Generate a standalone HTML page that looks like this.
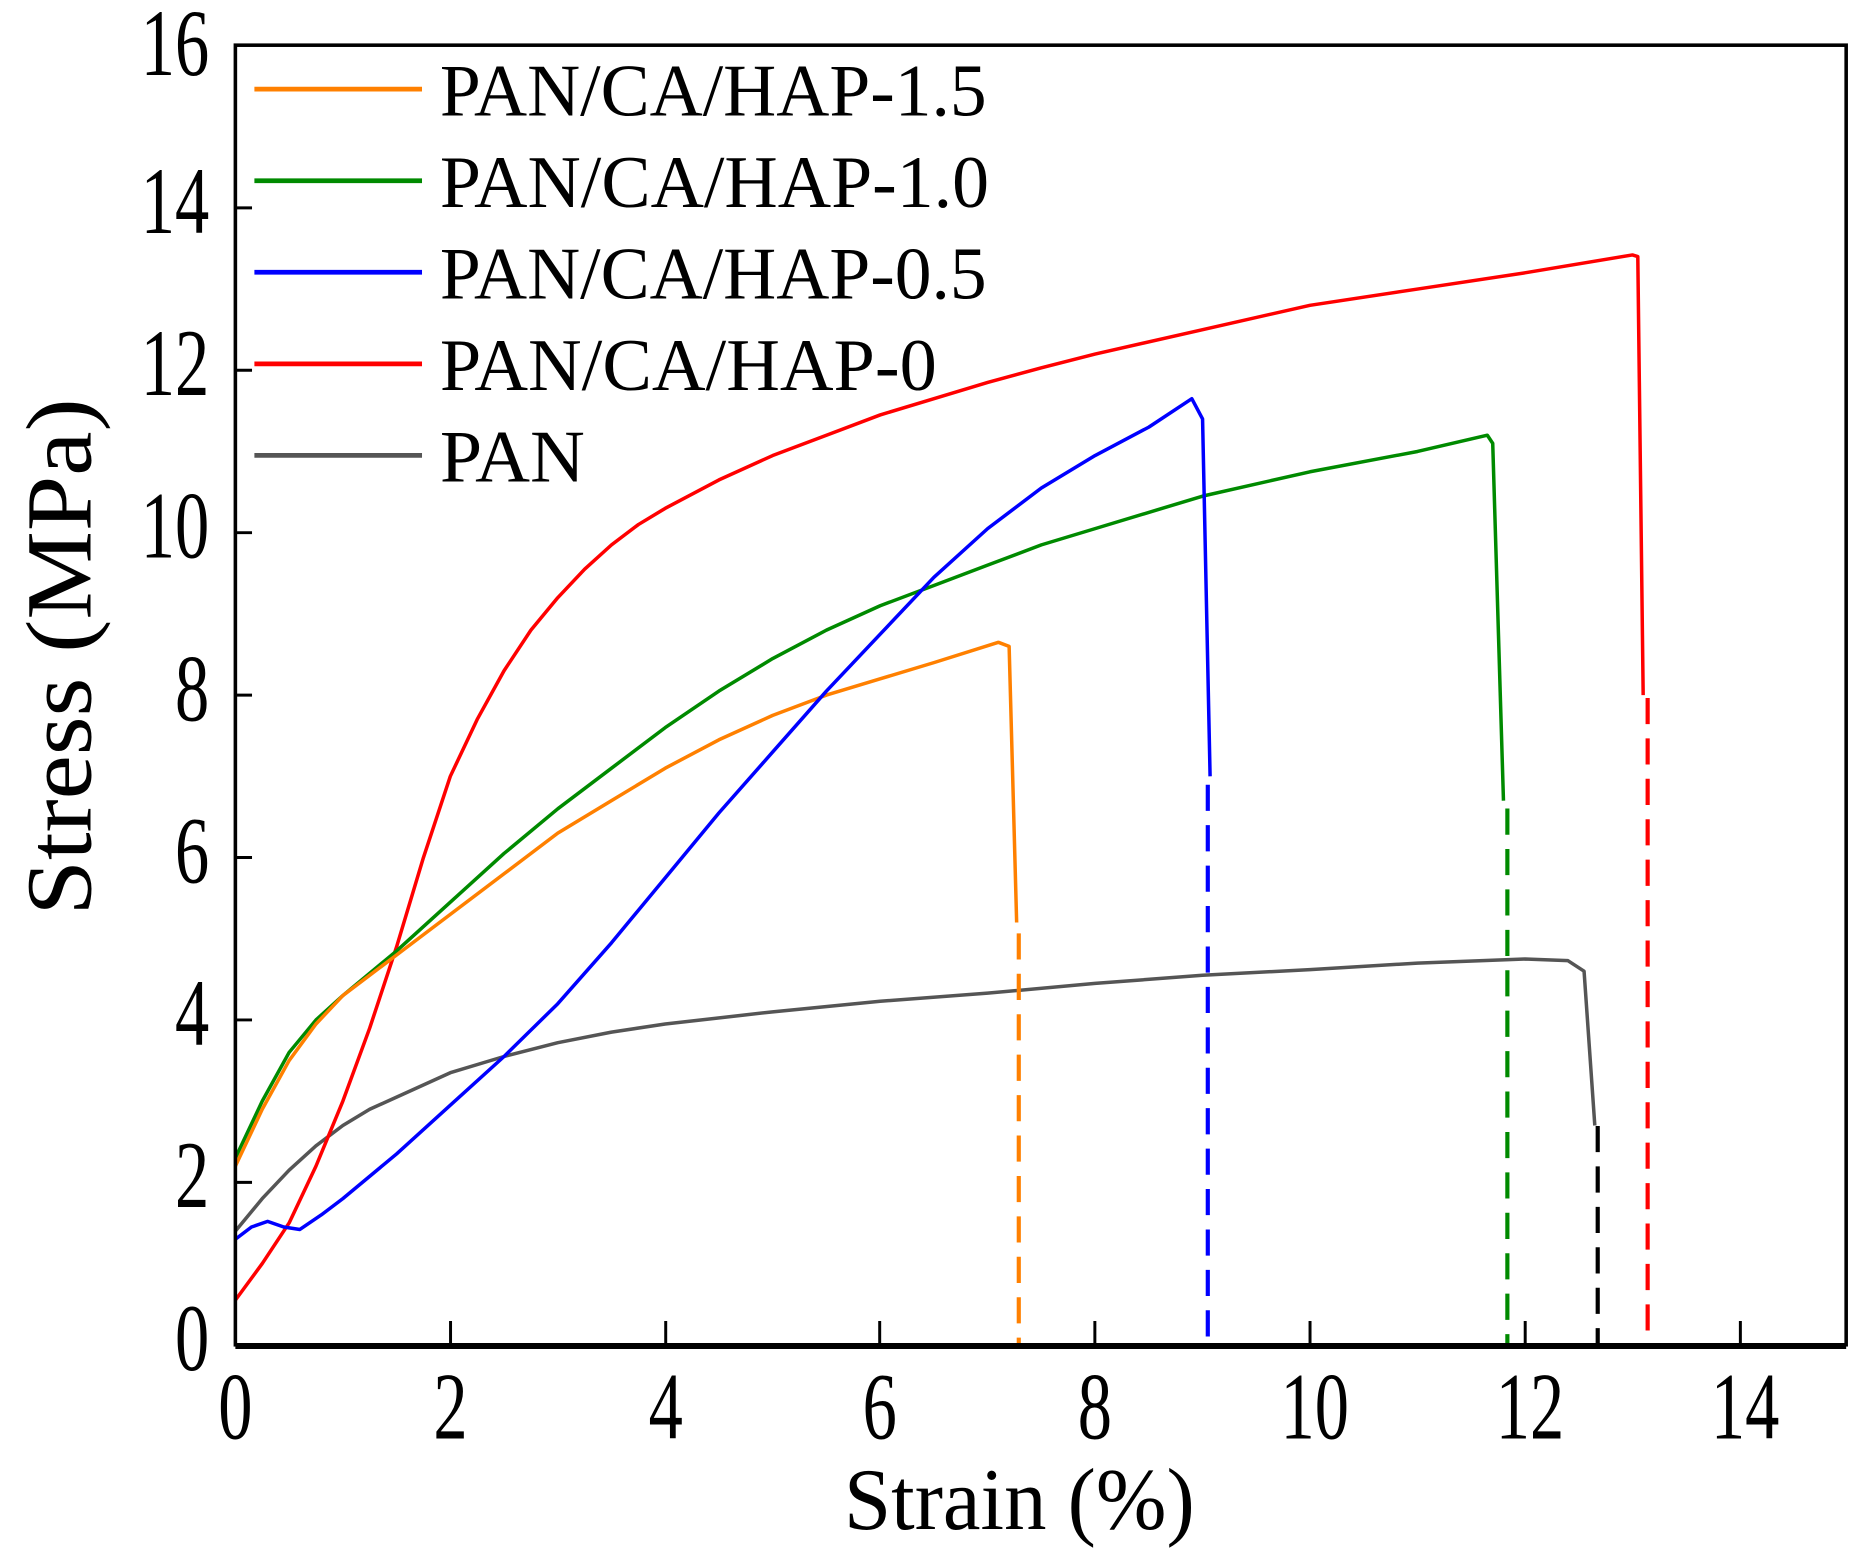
<!DOCTYPE html>
<html><head><meta charset="utf-8"><style>
html,body{margin:0;padding:0;background:#fff;}
svg{display:block;}
text{font-family:"Liberation Serif",serif;fill:#000;}
</style></head><body>
<svg width="1864" height="1560" viewBox="0 0 1568 1312" preserveAspectRatio="none" xmlns="http://www.w3.org/2000/svg">
<rect x="0" y="0" width="1568" height="1312" fill="#fff"/>
<g stroke="#000" stroke-width="2.5">
<line x1="379" y1="1131" x2="379" y2="1111"/><line x1="560" y1="1131" x2="560" y2="1111"/>
<line x1="740" y1="1131" x2="740" y2="1111"/><line x1="921" y1="1131" x2="921" y2="1111"/>
<line x1="1102" y1="1131" x2="1102" y2="1111"/><line x1="1283" y1="1131" x2="1283" y2="1111"/>
<line x1="1464" y1="1131" x2="1464" y2="1111"/>
<line x1="198" y1="994.4" x2="212" y2="994.4"/><line x1="198" y1="857.8" x2="212" y2="857.8"/>
<line x1="198" y1="721.2" x2="212" y2="721.2"/><line x1="198" y1="584.6" x2="212" y2="584.6"/>
<line x1="198" y1="448" x2="212" y2="448"/><line x1="198" y1="311.4" x2="212" y2="311.4"/>
<line x1="198" y1="174.8" x2="212" y2="174.8"/>
</g>
<g fill="none" stroke-width="3.5" stroke-linejoin="round" transform="translate(198,1131) scale(90.4,-68.3)">
<polyline vector-effect="non-scaling-stroke" stroke="#555" points="0,1.4 0.25,1.8 0.5,2.15 0.75,2.45 1,2.7 1.25,2.9 1.5,3.05 2,3.35 2.5,3.55 3,3.72 3.5,3.85 4,3.95 5,4.1 6,4.23 7,4.33 8,4.45 9,4.55 10,4.62 11,4.7 12,4.75 12.4,4.73 12.55,4.6 12.65,2.7"/>
<polyline vector-effect="non-scaling-stroke" stroke="#ff0000" points="0,0.55 0.25,1.0 0.5,1.5 0.75,2.2 1,3.0 1.25,3.9 1.5,4.9 1.75,6.0 2,7.0 2.25,7.7 2.5,8.3 2.75,8.8 3,9.2 3.25,9.55 3.5,9.85 3.75,10.1 4,10.3 4.5,10.65 5,10.95 5.5,11.2 6,11.45 6.5,11.65 7,11.85 7.5,12.03 8,12.2 9,12.5 10,12.8 11,13.0 12,13.2 13,13.42 13.05,13.4 13.1,8.0"/>
<polyline vector-effect="non-scaling-stroke" stroke="#008a00" points="0,2.3 0.25,3.0 0.5,3.6 0.75,4.0 1,4.3 1.5,4.85 2,5.45 2.5,6.05 3,6.6 3.5,7.1 4,7.6 4.5,8.05 5,8.45 5.5,8.8 6,9.1 6.5,9.35 7,9.6 7.5,9.85 8,10.05 9,10.45 10,10.75 11,11.0 11.65,11.2 11.7,11.1 11.8,6.7"/>
<polyline vector-effect="non-scaling-stroke" stroke="#ff8000" points="0,2.2 0.25,2.9 0.5,3.5 0.75,3.95 1,4.3 1.5,4.8 2,5.3 2.5,5.8 3,6.3 3.5,6.7 4,7.1 4.5,7.45 5,7.75 5.5,8.0 6,8.2 6.5,8.4 7.1,8.65 7.2,8.6 7.27,5.2"/>
<polyline vector-effect="non-scaling-stroke" stroke="#0000ff" points="0,1.3 0.15,1.45 0.3,1.52 0.45,1.45 0.6,1.42 0.8,1.6 1,1.8 1.5,2.35 2,2.95 2.5,3.55 3,4.2 3.5,4.95 4,5.75 4.5,6.55 5,7.3 5.5,8.05 6,8.75 6.5,9.45 7,10.05 7.5,10.55 8,10.95 8.5,11.3 8.9,11.65 9.0,11.4 9.07,7.0"/>
</g>
<g fill="none" stroke-width="3.5" stroke-dasharray="22,12">
<line x1="857" y1="785" x2="857" y2="1131" stroke="#ff8000"/>
<line x1="1016" y1="660" x2="1016" y2="1131" stroke="#0000ff"/>
<line x1="1268" y1="680" x2="1268" y2="1131" stroke="#008a00"/>
<line x1="1344" y1="947" x2="1344" y2="1131" stroke="#000"/>
<line x1="1386" y1="587" x2="1386" y2="1131" stroke="#ff0000"/>
</g>
<rect x="198" y="38" width="1355" height="1093" fill="none" stroke="#000" stroke-width="3"/>
<line x1="198" y1="1132" x2="1553" y2="1132" stroke="#000" stroke-width="5"/>
<g font-size="80" text-anchor="end">
<text transform="translate(176,1152) scale(0.72,1)">0</text>
<text transform="translate(176,1015) scale(0.72,1)">2</text>
<text transform="translate(176,879) scale(0.72,1)">4</text>
<text transform="translate(176,742) scale(0.72,1)">6</text>
<text transform="translate(176,606) scale(0.72,1)">8</text>
<text transform="translate(176,469) scale(0.72,1)">10</text>
<text transform="translate(176,332) scale(0.72,1)">12</text>
<text transform="translate(176,196) scale(0.72,1)">14</text>
<text transform="translate(176,63) scale(0.72,1)">16</text>
</g>
<g font-size="80" text-anchor="middle">
<text transform="translate(198,1210) scale(0.72,1)">0</text>
<text transform="translate(379,1210) scale(0.72,1)">2</text>
<text transform="translate(560,1210) scale(0.72,1)">4</text>
<text transform="translate(740,1210) scale(0.72,1)">6</text>
<text transform="translate(921,1210) scale(0.72,1)">8</text>
<text transform="translate(1106,1210) scale(0.72,1)">10</text>
<text transform="translate(1287,1210) scale(0.72,1)">12</text>
<text transform="translate(1468,1210) scale(0.72,1)">14</text>
</g>
<text x="710" y="1286" font-size="74" textLength="295" lengthAdjust="spacingAndGlyphs">Strain (%)</text>
<text transform="translate(76,770) rotate(-90)" x="0" y="0" font-size="78" textLength="435" lengthAdjust="spacingAndGlyphs">Stress (MPa)</text>
<g stroke-width="4">
<line x1="214" y1="75" x2="355" y2="75" stroke="#ff8000"/>
<line x1="214" y1="152" x2="355" y2="152" stroke="#008a00"/>
<line x1="214" y1="229" x2="355" y2="229" stroke="#0000ff"/>
<line x1="214" y1="306" x2="355" y2="306" stroke="#ff0000"/>
<line x1="214" y1="383" x2="355" y2="383" stroke="#555"/>
</g>
<g font-size="62" lengthAdjust="spacingAndGlyphs">
<text x="370" y="97" textLength="460" lengthAdjust="spacingAndGlyphs">PAN/CA/HAP-1.5</text>
<text x="370" y="174" textLength="462" lengthAdjust="spacingAndGlyphs">PAN/CA/HAP-1.0</text>
<text x="370" y="251" textLength="460" lengthAdjust="spacingAndGlyphs">PAN/CA/HAP-0.5</text>
<text x="370" y="328" textLength="418" lengthAdjust="spacingAndGlyphs">PAN/CA/HAP-0</text>
<text x="370" y="405" textLength="122" lengthAdjust="spacingAndGlyphs">PAN</text>
</g>
</svg>
</body></html>
